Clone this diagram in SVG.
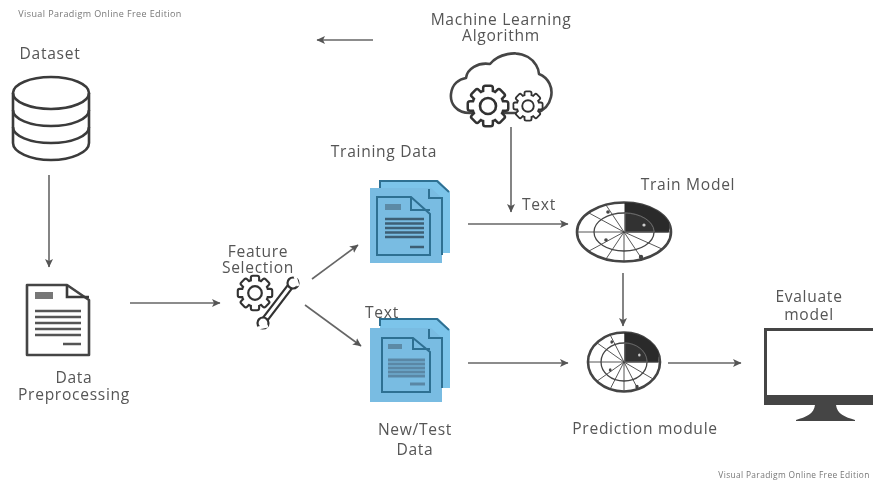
<svg xmlns="http://www.w3.org/2000/svg" xmlns:xlink="http://www.w3.org/1999/xlink" width="873" height="483" viewBox="0 0 873 483">
<style>
text{font-family:"Open Sans","Liberation Sans",sans-serif;font-size:15.6px;fill:#555;text-anchor:middle;letter-spacing:.7px}
.wm{font-size:9px;fill:#777;letter-spacing:.4px}
.wb{font-size:8.4px;letter-spacing:.35px}
.o{fill:#fff;stroke:#444;stroke-width:2.6;stroke-linejoin:round}
.n{fill:none;stroke:#3a3a3a;stroke-width:2.6}
.l{stroke:#555;stroke-width:2.4}
.c{fill:none;stroke:#666;stroke-width:1.6;marker-end:url(#a)}
.gu{stroke:#333;stroke-width:5;fill:#333}
.gw{stroke:none;fill:#fff}
.b1{fill:#7cc4ea;stroke:none}
.b2{fill:none;stroke:#2f6f92;stroke-width:2}
.r{fill:none;stroke:#444;vector-effect:non-scaling-stroke}
</style>
<defs>
<filter id="soft" x="0" y="0" width="873" height="483" filterUnits="userSpaceOnUse"><feGaussianBlur stdDeviation="0.75"/></filter>
<marker id="a" markerWidth="10" markerHeight="10" refX="8" refY="5" orient="auto" markerUnits="userSpaceOnUse"><path d="M0,1L8.5,5L0,9L2,5Z" fill="#555"/></marker>
<g id="teeth">
<circle r="14.5"/>
<g id="t4"><rect x="-3.6" y="-19" width="7.2" height="38" rx="1"/><rect x="-19" y="-3.6" width="38" height="7.2" rx="1"/></g>
<use xlink:href="#t4" href="#t4" transform="rotate(45)"/>
</g>
<g id="gear">
<use href="#teeth" xlink:href="#teeth" class="gu"/>
<use href="#teeth" xlink:href="#teeth" class="gw"/>
<circle r="8" fill="#fff" stroke="#333" stroke-width="2.6"/>
</g>
<g id="radar">
<ellipse rx="47" ry="29.5" class="r" fill="#fff" stroke-width="2.6"/>
<path d="M1,0V-29A47,29.5 0 0 1 44.5,-9.5L44.5,0Z" fill="#2a2a2a" stroke="#2a2a2a"/>
<ellipse rx="30" ry="19" class="r" stroke-width="1.3"/>
<path class="r" stroke-width=".9" d="M0,0V29M0,0H-46M0,0L-35,19M0,0L-35,-19M0,0L-18,-27M0,0L-18,27M0,0L18,27M0,0L38,17M0,0H46"/>
<path d="M1,0V-19A30,19 0 0 1 30,-1L30,0Z" fill="#333" stroke="#777" stroke-width=".8"/>
<circle cx="-16" cy="-20" r="1.8" fill="#444"/><circle cx="-18" cy="8" r="1.8" fill="#444"/><circle cx="17" cy="25" r="2.2" fill="#444"/><circle cx="20" cy="-7" r="1.6" fill="#ccc"/>
</g>
</defs>
<rect width="873" height="483" fill="#fff"/>
<g filter="url(#soft)">
<g id="connectors">
<path class="c" d="M373,40H317"/>
<path class="c" d="M49,175V267"/>
<path class="c" d="M130,303H220"/>
<path class="c" d="M312,279L358,245"/>
<path class="c" d="M305,305L361,346"/>
<path class="c" d="M511,127V212"/>
<path class="c" d="M468,224H568"/>
<path class="c" d="M468,363H568"/>
<path class="c" d="M623,273V326"/>
<path class="c" d="M668,363H741"/>
</g>
<g id="watermark-top"><text class="wm" x="100" y="17">Visual Paradigm Online Free Edition</text></g>
<g id="dataset">
<text x="50" y="59">Dataset</text>
<path class="n" d="M13,93V143C13,152 30,160 51,160C72,160 89,152 89,143V93"/>
<ellipse cx="51" cy="93" rx="38" ry="16" class="n"/>
<path class="n" d="M13,110C13,119 30,126 51,126C72,126 89,119 89,110M13,127C13,136 30,143 51,143C72,143 89,136 89,127"/>
</g>
<g id="data-preprocessing">
<path class="o" d="M27,285H67L89,300V355H27Z"/>
<path class="n" d="M67,285V297H89"/>
<rect x="35" y="292" width="18" height="7" fill="#777"/>
<path class="l" d="M35,311H81M35,317H81M35,323H81M35,329H81M35,335H81M63,344H81"/>
<text x="74" y="383">Data<tspan x="74" dy="17">Preprocessing</tspan></text>
</g>
<g id="feature-selection">
<text x="258" y="257">Feature<tspan x="258" dy="16">Selection</tspan></text>
<g transform="translate(255,293) scale(.85)"><use href="#gear" xlink:href="#gear"/></g>
<path d="M263,322L292,284" stroke="#333" stroke-width="7.4" stroke-linecap="round"/><path d="M263,322L292,284" stroke="#fff" stroke-width="3" stroke-linecap="round"/>
<circle cx="293" cy="283" r="5.5" fill="#fff" stroke="#333" stroke-width="2.2"/><circle cx="263" cy="323" r="5.500" fill="#fff" stroke="#333" stroke-width="2.2"/>
<path d="M295,276L298,286M258,328L268,326" stroke="#fff" stroke-width="3"/>
</g>
<g id="machine-learning-algorithm">
<text x="501" y="25">Machine Learning<tspan x="501" dy="16">Algorithm</tspan></text>
<path class="o" d="M470,113C456,113 450,103 451,94C452,84 459,79 466,78C467,69 478,62 490,64C498,54 516,50 528,57C535,61 539,69 539,74C549,78 553,88 551,97C549,106 543,111 536,113Z"/>
<g transform="translate(488,106)"><use href="#gear" xlink:href="#gear"/></g>
<g transform="translate(528,106) scale(.72)"><use href="#gear" xlink:href="#gear"/></g>
</g>
<g id="training-data">
<text x="384" y="157">Training Data</text>
<path class="b1" d="M380,180H438L450,192V253H380Z"/><path class="b2" d="M380,188V181H437L449,192"/>
<path d="M370,188H431L442,198V263H370Z" fill="#79bce2"/>
<path class="b2" d="M429,189V198H442V255M377,197H411L430,214V255H377Z"/>
<path d="M411,197V210H430" class="b2"/>
<rect x="385" y="204" width="16" height="6" fill="#5b8aa6"/>
<path stroke="#3d5f75" stroke-width="2.4" d="M385,219H424M385,223.500H424M385,228H424M385,232.500H424M385,237H424M410,247H424"/>
</g>
<g id="new-test-data">
<path class="b1" d="M380,318H438L450,330V388H380Z"/><path class="b2" d="M380,326V319H437L449,330"/>
<path d="M370,328H431L442,338V402H370Z" fill="#79bce2"/>
<path class="b2" d="M429,329V338H442V388M382,338H413L430,352V392H382Z"/>
<path d="M413,338V349H430" class="b2"/>
<rect x="388" y="344" width="14" height="5" fill="#5b8aa6"/>
<path stroke="#5a87a5" stroke-width="3" d="M388,360H425M388,364H425M388,368H425M388,372H425M388,376H425M410,384H425"/>
<text x="382" y="318">Text</text>
<text x="415" y="435">New/Test<tspan x="415" dy="20">Data</tspan></text>
</g>
<g id="label-text"><text x="539" y="210">Text</text></g>
<g id="train-model">
<text x="688" y="190">Train Model</text>
<g transform="translate(624,232)"><use href="#radar" xlink:href="#radar"/></g>
</g>
<g id="prediction-module">
<g transform="translate(624,362) scale(.766,1)"><use href="#radar" xlink:href="#radar"/></g>
<text x="645" y="434">Prediction module</text>
</g>
<g id="evaluate-model">
<text x="809" y="302">Evaluate<tspan x="809" dy="18">model</tspan></text>
<path d="M764,328H886V405H764Z" fill="#444"/><rect x="767" y="331" width="119" height="64" fill="#fff"/>
<path d="M815,405H836C837,414 845,417 855,420V421H796V420C806,417 814,414 815,405Z" fill="#444"/>
</g>
<g id="watermark-bottom"><text class="wm wb" x="794" y="478">Visual Paradigm Online Free Edition</text></g>
</g>
</svg>
